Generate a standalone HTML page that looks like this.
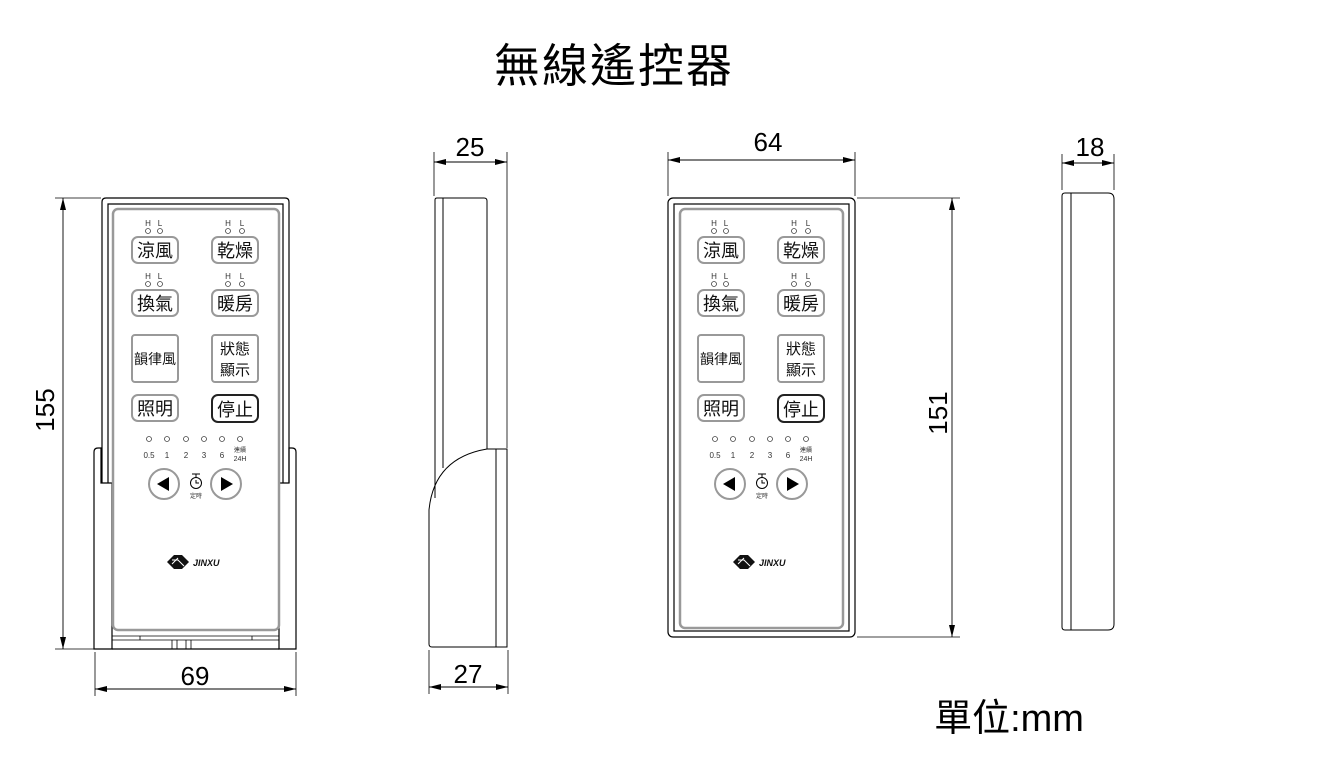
<!DOCTYPE html>
<html><head><meta charset="utf-8"><style>
html,body{margin:0;padding:0;background:#fff}
svg{display:block}
text{font-family:"Liberation Sans","Noto Sans CJK TC",sans-serif}
</style></head><body>
<svg width="1325" height="770" viewBox="0 0 1325 770" xmlns="http://www.w3.org/2000/svg">
<defs>
<marker id="ar" viewBox="0 0 12 6" refX="12" refY="3" markerWidth="12" markerHeight="6" orient="auto-start-reverse" markerUnits="userSpaceOnUse"><path d="M0,0L12,3L0,6z" fill="#000"/></marker>
</defs>
<text x="614" y="82" font-size="46" text-anchor="middle" letter-spacing="2">無線遙控器</text>
<text x="1009" y="731" font-size="38" text-anchor="middle">單位:mm</text>

<!-- LEFT FRONT VIEW -->
<g fill="none" stroke="#000" stroke-width="1.2">
<line x1="55" y1="198" x2="101" y2="198" stroke-width="0.8"/>
<line x1="55" y1="649" x2="95" y2="649" stroke-width="0.8"/>
<line x1="63" y1="198" x2="63" y2="649" marker-start="url(#ar)" marker-end="url(#ar)" stroke-width="0.9"/>
<line x1="95" y1="652" x2="95" y2="696" stroke-width="0.8"/>
<line x1="296" y1="652" x2="296" y2="696" stroke-width="0.8"/>
<line x1="95" y1="689" x2="296" y2="689" marker-start="url(#ar)" marker-end="url(#ar)" stroke-width="0.9"/>
<path d="M102,483 V202 q0,-4 4,-4 H285 q4,0 4,4 V483"/>
<path d="M108,483 V204 H283 V483"/>
<path d="M94,648 V452 q0,-4 4,-4 H101 V483 H112 V649 H94 Z"/>
<path d="M296,648 V452 q0,-4 -4,-4 H289 V483 H279 V649 H296 Z"/>
<line x1="112" y1="649" x2="279" y2="649"/>
<line x1="112" y1="636" x2="279" y2="636" stroke-width="0.8"/>
<line x1="112" y1="640" x2="279" y2="640" stroke-width="0.8"/>
<path d="M172,640V649M177,640V649M186,640V649M191,640V649M140,636V640M252,636V640" stroke-width="0.8"/>
</g>
<rect x="113" y="209" width="166" height="421" rx="5" fill="none" stroke="#999" stroke-width="2.5"/>
<text x="47" y="410" font-size="26" text-anchor="middle" transform="rotate(-90 47 410)" dominant-baseline="middle">155</text>
<text x="195" y="685" font-size="26" text-anchor="middle">69</text>

<g>
<g font-size="8" fill="#333" text-anchor="middle">
<text x="148" y="226">H</text><text x="160" y="226">L</text>
<text x="228" y="226">H</text><text x="242" y="226">L</text>
<text x="148" y="279">H</text><text x="160" y="279">L</text>
<text x="228" y="279">H</text><text x="242" y="279">L</text>
</g>
<g fill="none" stroke="#444" stroke-width="0.8">
<circle cx="148" cy="231" r="2.5"/><circle cx="160" cy="231" r="2.5"/><circle cx="228" cy="231" r="2.5"/><circle cx="242" cy="231" r="2.5"/>
<circle cx="148" cy="284" r="2.5"/><circle cx="160" cy="284" r="2.5"/><circle cx="228" cy="284" r="2.5"/><circle cx="242" cy="284" r="2.5"/>
<circle cx="149" cy="439" r="2.5"/><circle cx="167" cy="439" r="2.5"/><circle cx="186" cy="439" r="2.5"/><circle cx="204" cy="439" r="2.5"/><circle cx="222" cy="439" r="2.5"/><circle cx="240" cy="439" r="2.5"/>
</g>
<g fill="none" stroke="#999" stroke-width="2">
<rect x="132" y="237" width="46" height="26" rx="6"/><rect x="212" y="237" width="46" height="26" rx="6"/>
<rect x="132" y="290" width="46" height="26" rx="6"/><rect x="212" y="290" width="46" height="26" rx="6"/>
<rect x="132" y="335" width="46" height="47" rx="3"/><rect x="212" y="335" width="46" height="47" rx="3"/>
<rect x="132" y="395" width="46" height="26" rx="6"/>
<circle cx="164" cy="484" r="15"/><circle cx="226" cy="484" r="15"/>
</g>
<rect x="212" y="395" width="46" height="27" rx="6" fill="none" stroke="#222" stroke-width="2"/>
<g font-size="18" text-anchor="middle" fill="#111">
<text x="155" y="257">涼風</text><text x="235" y="257">乾燥</text>
<text x="155" y="310">換氣</text><text x="235" y="310">暖房</text>
<text x="155" y="364" font-size="14">韻律風</text>
<text x="235" y="354" font-size="15">狀態</text><text x="235" y="375" font-size="15">顯示</text>
<text x="155" y="415">照明</text><text x="235" y="416">停止</text>
</g>
<g font-size="8" fill="#333" text-anchor="middle">
<text x="149" y="458">0.5</text><text x="167" y="458">1</text><text x="186" y="458">2</text><text x="204" y="458">3</text><text x="222" y="458">6</text>
<text x="240" y="452" font-size="6">連續</text><text x="240" y="461" font-size="7">24H</text>
<text x="196" y="498" font-size="6">定時</text>
</g>
<path d="M157,484 L169,477 L169,491 Z" fill="#000"/>
<path d="M233,484 L221,477 L221,491 Z" fill="#000"/>
<circle cx="196" cy="483" r="5.5" fill="none" stroke="#000" stroke-width="1"/>
<path d="M192,474H200M196,474V477M196,480V483H199" stroke="#000" fill="none" stroke-width="1"/>
<path d="M167,562 L174,555 L182,555 L189,562 L182,569 L174,569 Z" fill="#111"/>
<path d="M172,560 L178,560 L184,566 M172,564 L178,558" stroke="#fff" stroke-width="1" fill="none"/>
<text x="193" y="566" font-size="9" font-weight="bold" font-style="italic" fill="#111">JINXU</text>
</g>

<!-- RIGHT FRONT VIEW -->
<g fill="none" stroke="#000" stroke-width="1.2">
<line x1="668" y1="152" x2="668" y2="196" stroke-width="0.8"/>
<line x1="855" y1="152" x2="855" y2="196" stroke-width="0.8"/>
<line x1="668" y1="160" x2="855" y2="160" marker-start="url(#ar)" marker-end="url(#ar)" stroke-width="0.9"/>
<line x1="857" y1="198" x2="960" y2="198" stroke-width="0.8"/>
<line x1="857" y1="637" x2="960" y2="637" stroke-width="0.8"/>
<line x1="952" y1="198" x2="952" y2="637" marker-start="url(#ar)" marker-end="url(#ar)" stroke-width="0.9"/>
<rect x="668" y="198" width="187" height="439" rx="5"/>
<rect x="674" y="204" width="175" height="427"/>
</g>
<rect x="680" y="209" width="163" height="419" rx="5" fill="none" stroke="#999" stroke-width="2.5"/>
<text x="768" y="151" font-size="26" text-anchor="middle">64</text>
<text x="940" y="413" font-size="26" text-anchor="middle" transform="rotate(-90 940 413)" dominant-baseline="middle">151</text>

<g transform="translate(566,0)">
<g font-size="8" fill="#333" text-anchor="middle">
<text x="148" y="226">H</text><text x="160" y="226">L</text>
<text x="228" y="226">H</text><text x="242" y="226">L</text>
<text x="148" y="279">H</text><text x="160" y="279">L</text>
<text x="228" y="279">H</text><text x="242" y="279">L</text>
</g>
<g fill="none" stroke="#444" stroke-width="0.8">
<circle cx="148" cy="231" r="2.5"/><circle cx="160" cy="231" r="2.5"/><circle cx="228" cy="231" r="2.5"/><circle cx="242" cy="231" r="2.5"/>
<circle cx="148" cy="284" r="2.5"/><circle cx="160" cy="284" r="2.5"/><circle cx="228" cy="284" r="2.5"/><circle cx="242" cy="284" r="2.5"/>
<circle cx="149" cy="439" r="2.5"/><circle cx="167" cy="439" r="2.5"/><circle cx="186" cy="439" r="2.5"/><circle cx="204" cy="439" r="2.5"/><circle cx="222" cy="439" r="2.5"/><circle cx="240" cy="439" r="2.5"/>
</g>
<g fill="none" stroke="#999" stroke-width="2">
<rect x="132" y="237" width="46" height="26" rx="6"/><rect x="212" y="237" width="46" height="26" rx="6"/>
<rect x="132" y="290" width="46" height="26" rx="6"/><rect x="212" y="290" width="46" height="26" rx="6"/>
<rect x="132" y="335" width="46" height="47" rx="3"/><rect x="212" y="335" width="46" height="47" rx="3"/>
<rect x="132" y="395" width="46" height="26" rx="6"/>
<circle cx="164" cy="484" r="15"/><circle cx="226" cy="484" r="15"/>
</g>
<rect x="212" y="395" width="46" height="27" rx="6" fill="none" stroke="#222" stroke-width="2"/>
<g font-size="18" text-anchor="middle" fill="#111">
<text x="155" y="257">涼風</text><text x="235" y="257">乾燥</text>
<text x="155" y="310">換氣</text><text x="235" y="310">暖房</text>
<text x="155" y="364" font-size="14">韻律風</text>
<text x="235" y="354" font-size="15">狀態</text><text x="235" y="375" font-size="15">顯示</text>
<text x="155" y="415">照明</text><text x="235" y="416">停止</text>
</g>
<g font-size="8" fill="#333" text-anchor="middle">
<text x="149" y="458">0.5</text><text x="167" y="458">1</text><text x="186" y="458">2</text><text x="204" y="458">3</text><text x="222" y="458">6</text>
<text x="240" y="452" font-size="6">連續</text><text x="240" y="461" font-size="7">24H</text>
<text x="196" y="498" font-size="6">定時</text>
</g>
<path d="M157,484 L169,477 L169,491 Z" fill="#000"/>
<path d="M233,484 L221,477 L221,491 Z" fill="#000"/>
<circle cx="196" cy="483" r="5.5" fill="none" stroke="#000" stroke-width="1"/>
<path d="M192,474H200M196,474V477M196,480V483H199" stroke="#000" fill="none" stroke-width="1"/>
<path d="M167,562 L174,555 L182,555 L189,562 L182,569 L174,569 Z" fill="#111"/>
<path d="M172,560 L178,560 L184,566 M172,564 L178,558" stroke="#fff" stroke-width="1" fill="none"/>
<text x="193" y="566" font-size="9" font-weight="bold" font-style="italic" fill="#111">JINXU</text>
</g>

<!-- SIDE VIEW 25/27 -->
<g fill="none" stroke="#000" stroke-width="1">
<line x1="434" y1="152" x2="434" y2="196" stroke-width="0.8"/>
<line x1="507" y1="152" x2="507" y2="448" stroke-width="0.8"/>
<line x1="434" y1="162" x2="507" y2="162" marker-start="url(#ar)" marker-end="url(#ar)" stroke-width="0.9"/>
<path d="M435,498 V200 q0,-2 2,-2 H484 q3,0 3,3 V449"/>
<line x1="443" y1="198" x2="443" y2="468"/>
<path d="M487,449 H507 V647 H432 q-3,0 -3,-3 V510 Q434,458 487,449 Z"/>
<line x1="496" y1="449" x2="496" y2="647"/>
<line x1="429" y1="650" x2="429" y2="694" stroke-width="0.8"/>
<line x1="508" y1="650" x2="508" y2="694" stroke-width="0.8"/>
<line x1="429" y1="687" x2="508" y2="687" marker-start="url(#ar)" marker-end="url(#ar)" stroke-width="0.9"/>
</g>
<text x="470" y="156" font-size="26" text-anchor="middle">25</text>
<text x="468" y="683" font-size="26" text-anchor="middle">27</text>

<!-- SIDE VIEW 18 -->
<g fill="none" stroke="#000" stroke-width="1">
<line x1="1062" y1="154" x2="1062" y2="190" stroke-width="0.8"/>
<line x1="1114" y1="154" x2="1114" y2="190" stroke-width="0.8"/>
<line x1="1062" y1="163" x2="1114" y2="163" marker-start="url(#ar)" marker-end="url(#ar)" stroke-width="0.9"/>
<path d="M1065,193 H1108 q6,0 6,6 V624 q0,6 -6,6 H1065 q-3,0 -3,-3 V196 q0,-3 3,-3 Z"/>
<line x1="1071" y1="193" x2="1071" y2="630"/>
</g>
<text x="1090" y="156" font-size="26" text-anchor="middle">18</text>
</svg>
</body></html>
